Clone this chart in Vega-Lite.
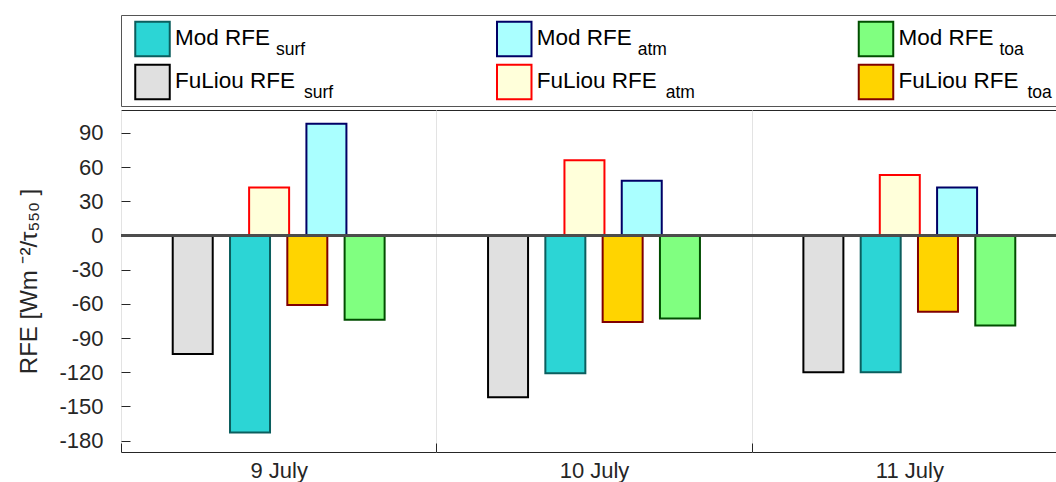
{
  "$schema": "https://vega.github.io/schema/vega-lite/v6.json",
  "padding": {"left": 16, "top": 14, "right": 0, "bottom": 0},
  "config": {"font": "Liberation Sans", "view": {"stroke": null}},
  "spacing": 2,
  "data": {"values": [
    {"day": "9 July", "model": "FuLiou", "component": "surf", "series": "FuLiou surf", "value": -104},
    {"day": "9 July", "model": "Mod", "component": "surf", "series": "Mod surf", "value": -173},
    {"day": "9 July", "model": "FuLiou", "component": "atm", "series": "FuLiou atm", "value": 42},
    {"day": "9 July", "model": "FuLiou", "component": "toa", "series": "FuLiou toa", "value": -61},
    {"day": "9 July", "model": "Mod", "component": "atm", "series": "Mod atm", "value": 98},
    {"day": "9 July", "model": "Mod", "component": "toa", "series": "Mod toa", "value": -74},
    {"day": "10 July", "model": "FuLiou", "component": "surf", "series": "FuLiou surf", "value": -142},
    {"day": "10 July", "model": "Mod", "component": "surf", "series": "Mod surf", "value": -121},
    {"day": "10 July", "model": "FuLiou", "component": "atm", "series": "FuLiou atm", "value": 66},
    {"day": "10 July", "model": "FuLiou", "component": "toa", "series": "FuLiou toa", "value": -76},
    {"day": "10 July", "model": "Mod", "component": "atm", "series": "Mod atm", "value": 48},
    {"day": "10 July", "model": "Mod", "component": "toa", "series": "Mod toa", "value": -73},
    {"day": "11 July", "model": "FuLiou", "component": "surf", "series": "FuLiou surf", "value": -120},
    {"day": "11 July", "model": "Mod", "component": "surf", "series": "Mod surf", "value": -120},
    {"day": "11 July", "model": "FuLiou", "component": "atm", "series": "FuLiou atm", "value": 53},
    {"day": "11 July", "model": "FuLiou", "component": "toa", "series": "FuLiou toa", "value": -67},
    {"day": "11 July", "model": "Mod", "component": "atm", "series": "Mod atm", "value": 42},
    {"day": "11 July", "model": "Mod", "component": "toa", "series": "Mod toa", "value": -79}
  ]},
  "resolve": {"scale": {"x": "independent", "y": "independent"}},
  "vconcat": [
    {
      "width": 946,
      "height": 91,
      "view": {"stroke": "#555555", "strokeWidth": 1},
      "transform": [
        {"filter": "datum.day === '9 July'"},
        {"calculate": "datum.model + ' RFE'", "as": "label"}
      ],
      "encoding": {
        "x": {"field": "component", "type": "nominal", "scale": {"type": "point", "domain": ["surf", "atm", "toa"], "range": [31.5, 755], "padding": 0}, "axis": null},
        "y": {"field": "model", "type": "nominal", "scale": {"type": "point", "domain": ["Mod", "FuLiou"], "range": [24, 67], "padding": 0}, "axis": null}
      },
      "layer": [
        {
          "mark": {"type": "square", "size": 1190, "filled": true, "strokeWidth": 2, "opacity": 1},
          "encoding": {
            "fill": {"field": "series", "type": "nominal", "legend": null,
              "scale": {"domain": ["Mod surf", "Mod atm", "Mod toa", "FuLiou surf", "FuLiou atm", "FuLiou toa"],
                        "range": ["#2CD5D5", "#AAFFFF", "#80FF80", "#E0E0E0", "#FFFFDA", "#FFD400"]}},
            "stroke": {"field": "series", "type": "nominal", "legend": null,
              "scale": {"domain": ["Mod surf", "Mod atm", "Mod toa", "FuLiou surf", "FuLiou atm", "FuLiou toa"],
                        "range": ["#0B5E5E", "#000066", "#004D00", "#000000", "#FF0000", "#800000"]}}
          }
        },
        {
          "mark": {"type": "text", "align": "left", "baseline": "alphabetic", "dx": 22.5, "dy": 5.5, "fontSize": 22.5, "color": "#000000"},
          "encoding": {"text": {"field": "label"}}
        },
        {
          "transform": [{"filter": "datum.model === 'Mod'"}],
          "mark": {"type": "text", "align": "left", "baseline": "alphabetic", "dx": 123.5, "dy": 16.2, "fontSize": 17.5, "color": "#000000"},
          "encoding": {"text": {"field": "component"}}
        },
        {
          "transform": [{"filter": "datum.model === 'FuLiou'"}],
          "mark": {"type": "text", "align": "left", "baseline": "alphabetic", "dx": 151.5, "dy": 16.2, "fontSize": 17.5, "color": "#000000"},
          "encoding": {"text": {"field": "component"}}
        }
      ]
    },
    {
      "width": 946,
      "height": 342,
      "view": {"stroke": "#262626", "strokeWidth": 1},
      "layer": [
        {
          "mark": {"type": "bar", "width": 40, "strokeWidth": 2},
          "encoding": {
            "x": {"field": "day", "type": "nominal",
              "scale": {"domain": ["9 July", "10 July", "11 July"], "paddingInner": 0, "paddingOuter": 0},
              "axis": {"title": null, "labelAngle": 0, "tickBand": "extent", "grid": true, "gridColor": "#e3e3e3", "gridWidth": 1,
                       "domain": false, "tickColor": "#262626", "tickSize": -9, "labelFontSize": 22, "labelColor": "#262626", "labelPadding": 17}},
            "xOffset": {"field": "series", "type": "nominal",
              "scale": {"domain": ["_a", "_b", "_c", "FuLiou surf", "_1", "_2", "Mod surf", "FuLiou atm", "_3", "FuLiou toa", "Mod atm", "_4", "Mod toa", "_d", "_e", "_f"],
                        "paddingInner": 0, "paddingOuter": 0.255}},
            "y": {"field": "value", "type": "quantitative",
              "scale": {"domain": [-190, 110], "nice": false, "zero": false},
              "axis": {"values": [-180, -150, -120, -90, -60, -30, 0, 30, 60, 90], "tickCount": 30, "grid": false, "domain": false, "labelOverlap": false,
                       "labelExpr": "'' + datum.value",
                       "tickSize": -9, "tickColor": "#262626", "labelFontSize": 22, "labelColor": "#262626", "labelPadding": 27,
                       "title": "RFE [Wm ⁻²/τ₅₅₀ ]", "titleFontSize": 24, "titleFontWeight": "normal", "titleColor": "#262626",
                       "titleX": -80, "titleY": 171}},
            "fill": {"field": "series", "type": "nominal", "legend": null,
              "scale": {"domain": ["Mod surf", "Mod atm", "Mod toa", "FuLiou surf", "FuLiou atm", "FuLiou toa"],
                        "range": ["#2CD5D5", "#AAFFFF", "#80FF80", "#E0E0E0", "#FFFFDA", "#FFD400"]}},
            "stroke": {"field": "series", "type": "nominal", "legend": null,
              "scale": {"domain": ["Mod surf", "Mod atm", "Mod toa", "FuLiou surf", "FuLiou atm", "FuLiou toa"],
                        "range": ["#0B5E5E", "#000066", "#004D00", "#000000", "#FF0000", "#800000"]}}
          }
        },
        {
          "mark": {"type": "rule", "color": "#4d4d4d", "strokeWidth": 1.5},
          "encoding": {"y": {"datum": 0}}
        }
      ]
    }
  ]
}
